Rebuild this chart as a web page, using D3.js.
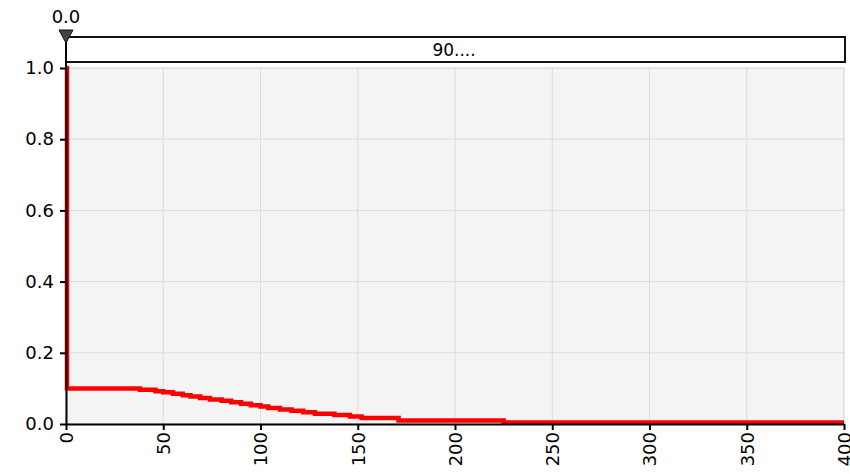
<!DOCTYPE html>
<html><head><meta charset="utf-8">
<script src="https://cdn.jsdelivr.net/npm/d3@7"></script>
<style>
html,body{margin:0;padding:0;background:#fff;}
svg{display:block;}
text{font-family:"DejaVu Sans",Verdana,sans-serif;}
</style></head>
<body><svg id="c" width="850" height="474"></svg>
<script>
// Survival curve (time, survival probability)
const times    = [0, 0.5, 38, 46, 50, 55, 60, 64, 69, 74, 80, 85, 90, 95, 100, 104, 110, 116, 122, 128, 138, 146, 152, 171, 225, 400];
const survival = [1.0, 0.100, 0.096, 0.092, 0.089, 0.085, 0.081, 0.077, 0.073, 0.069, 0.065, 0.061, 0.057, 0.053, 0.049, 0.045, 0.041, 0.037, 0.033, 0.029, 0.025, 0.021, 0.017, 0.010, 0.004, 0.004];
const xTicks = [0, 50, 100, 150, 200, 250, 300, 350, 400];
const yTicks = [0.0, 0.2, 0.4, 0.6, 0.8, 1.0];
const markerValue = 0.0;
const markerLabel = "0.0";
const stripLabel = "90....";

const FONT = '"DejaVu Sans", Verdana, sans-serif';
const FS = 18;
const svg = d3.select("#c");
const m = {l:66, r:844, t:68, b:424};
const x = d3.scaleLinear().domain([0,400]).range([m.l, m.r]);
const y = d3.scaleLinear().domain([0,1]).range([m.b, m.t]);

// plot background
svg.append("rect").attr("x",m.l).attr("y",m.t).attr("width",m.r-m.l).attr("height",m.b-m.t)
  .attr("fill","#f4f4f4").attr("stroke","#dddddd").attr("stroke-width",1);

// grid
svg.append("g").selectAll("line").data(xTicks).join("line")
  .attr("x1",d=>x(d)).attr("x2",d=>x(d)).attr("y1",m.t).attr("y2",m.b)
  .attr("stroke","#dcdcdc").attr("stroke-width",1);
svg.append("g").selectAll("line").data(yTicks).join("line")
  .attr("x1",m.l).attr("x2",m.r).attr("y1",d=>y(d)).attr("y2",d=>y(d))
  .attr("stroke","#dcdcdc").attr("stroke-width",1);

// strip header
svg.append("rect").attr("x",m.l).attr("y",37).attr("width",m.r-m.l+1).attr("height",25)
  .attr("fill","#fff").attr("stroke","#111").attr("stroke-width",2);
svg.append("text").attr("x",(m.l+m.r)/2 - 1).attr("y",50).attr("dy","0.35em")
  .attr("font-family",FONT).attr("text-anchor","middle").attr("font-size",17).attr("fill","#000").text(stripLabel);

// curve
const pts = times.map((t,i)=>[t,survival[i]]);
const line = d3.line().x(d=>x(d[0])).y(d=>y(d[1])).curve(d3.curveStepAfter);
svg.append("path").datum(pts).attr("d",line).attr("fill","none")
  .attr("stroke","#ff0000").attr("stroke-width",4.5);

// axes
const xa = svg.append("g").attr("transform",`translate(0,${m.b})`)
  .call(d3.axisBottom(x).tickValues(xTicks).tickSize(6).tickSizeOuter(0).tickFormat(d3.format("d")));
xa.attr("font-family",FONT).attr("font-size",FS);
xa.select(".domain").attr("stroke","#000").attr("stroke-width",2);
xa.selectAll(".tick line").attr("stroke","#000").attr("stroke-width",2);
xa.selectAll(".tick text").attr("font-size",FS).attr("fill","#000")
  .attr("transform","rotate(-90)").attr("text-anchor","end")
  .attr("x",-8).attr("y",0).attr("dy","0.35em");

const ya = svg.append("g").attr("transform",`translate(${m.l},0)`)
  .call(d3.axisLeft(y).tickValues(yTicks).tickSize(6).tickSizeOuter(0).tickFormat(d3.format(".1f")));
ya.attr("font-family",FONT).attr("font-size",FS);
ya.select(".domain").attr("stroke","#000").attr("stroke-width",2);
ya.selectAll(".tick line").attr("stroke","#000").attr("stroke-width",2);
ya.selectAll(".tick text").attr("font-size",FS).attr("fill","#000").attr("x",-12);

// marker
const mx = x(markerValue);
svg.append("line").attr("x1",mx).attr("x2",mx).attr("y1",40).attr("y2",m.t)
  .attr("stroke","#000").attr("stroke-width",2);
svg.append("path").attr("d",`M${mx-7},30 L${mx+7},30 L${mx},43 Z`)
  .attr("fill","#444").attr("stroke","#111").attr("stroke-width",1);
svg.append("text").attr("x",mx).attr("y",17).attr("dy","0.35em").attr("text-anchor","middle")
  .attr("font-family",FONT).attr("font-size",FS).attr("fill","#000").text(markerLabel);
</script></body></html>
